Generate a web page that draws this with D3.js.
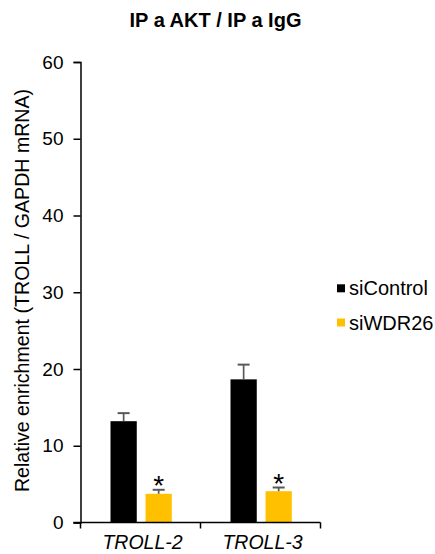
<!DOCTYPE html>
<html>
<head>
<meta charset="utf-8">
<script src="https://cdn.jsdelivr.net/npm/d3@7"></script>
<style>
  body { margin: 0; background: #fff; }
  text { font-family: "Liberation Sans", Arial, sans-serif; }
</style>
</head>
<body>
<div id="chart"></div>
<script>
const width = 435
const height = 554

// Datos
const categories = ["TROLL-2", "TROLL-3"]
const groups = ["siControl", "siWDR26"]
const colors = ["#000000", "#ffc000"]
const siControl = [13.2, 18.65]
const siControlErr = [1.05, 1.92]
const siWDR26 = [3.74, 4.08]
const siWDR26Err = [0.52, 0.48]
const significant = [true, true]
const yTicks = [0, 10, 20, 30, 40, 50, 60]

const plot = { left: 80.5, right: 320.5, top: 62, bottom: 522.5 }

const svg = d3.select("#chart")
  .append("svg")
  .attr("width", width)
  .attr("height", height)

// Escalas
const x = d3.scaleBand().domain(categories).range([plot.left, plot.right])
const xGroup = d3.scaleBand().domain(groups).range([30, 91.3]).paddingInner(0.25)
const y = d3.scaleLinear().domain([0, 60]).range([plot.bottom, plot.top])

// Titulo
svg.append("text")
  .attr("x", 215.5).attr("y", 26.5)
  .attr("text-anchor", "middle")
  .attr("font-size", 20).attr("font-weight", "bold")
  .text("IP a AKT / IP a IgG")

// Eje Y
const yAxisGroup = svg.append("g")
  .attr("transform", `translate(${plot.left},0)`)
  .call(d3.axisLeft(y).tickValues(yTicks).tickSize(7).tickPadding(10))
yAxisGroup.select(".domain").attr("stroke", "#000").attr("stroke-width", 1.5)
yAxisGroup.selectAll(".tick line").attr("stroke", "#000").attr("stroke-width", 1.5)
yAxisGroup.selectAll(".tick text")
  .attr("font-size", 19).attr("fill", "#000")
  .attr("font-family", "Liberation Sans, Arial, sans-serif")

svg.append("text")
  .attr("transform", `translate(24,290.5) rotate(-90)`)
  .attr("text-anchor", "middle")
  .attr("dominant-baseline", "middle")
  .attr("font-size", 19.6)
  .text("Relative enrichment (TROLL / GAPDH mRNA)")

// Datos por barra
const bars = []
categories.forEach((c, i) => {
  bars.push({ cat: c, group: "siControl", value: siControl[i], err: siControlErr[i], star: false })
  bars.push({ cat: c, group: "siWDR26", value: siWDR26[i], err: siWDR26Err[i], star: significant[i] })
})

const elementGroup = svg.append("g")

elementGroup.selectAll("rect.bar")
  .data(bars)
  .join("rect")
  .attr("class", "bar")
  .attr("x", d => x(d.cat) + xGroup(d.group))
  .attr("width", xGroup.bandwidth())
  .attr("y", d => y(d.value))
  .attr("height", d => y(0) - y(d.value))
  .attr("fill", d => colors[groups.indexOf(d.group)])

// Barras de error
const errG = elementGroup.selectAll("g.err")
  .data(bars)
  .join("g")
  .attr("class", "err")
  .attr("transform", d => `translate(${x(d.cat) + xGroup(d.group) + xGroup.bandwidth() / 2},0)`)
errG.append("line")
  .attr("x1", 0).attr("x2", 0)
  .attr("y1", d => y(d.value)).attr("y2", d => y(d.value + d.err))
  .attr("stroke", "#595959").attr("stroke-width", 1.7)
errG.append("line")
  .attr("x1", -6).attr("x2", 6)
  .attr("y1", d => y(d.value + d.err)).attr("y2", d => y(d.value + d.err))
  .attr("stroke", "#595959").attr("stroke-width", 2)

elementGroup.selectAll("text.star")
  .data(bars.filter(d => d.star))
  .join("text")
  .attr("class", "star")
  .attr("x", d => x(d.cat) + xGroup(d.group) + xGroup.bandwidth() / 2)
  .attr("y", d => y(d.value + d.err) + 5)
  .attr("text-anchor", "middle")
  .attr("font-size", 28)
  .text("*")

// Eje X
const xAxisGroup = svg.append("g")
  .attr("transform", `translate(0,${plot.bottom})`)
xAxisGroup.append("line")
  .attr("x1", plot.left - 7).attr("x2", plot.right)
  .attr("stroke", "#000").attr("stroke-width", 1.5)
xAxisGroup.selectAll("line.tk")
  .data([plot.left, ...categories.map(c => x(c) + x.bandwidth())])
  .join("line")
  .attr("class", "tk")
  .attr("x1", d => d).attr("x2", d => d)
  .attr("y1", 0).attr("y2", 6)
  .attr("stroke", "#000").attr("stroke-width", 1.5)
xAxisGroup.selectAll("text")
  .data(categories)
  .join("text")
  .attr("x", d => x(d) + x.bandwidth() / 2 + 2)
  .attr("y", 26)
  .attr("text-anchor", "middle")
  .attr("font-size", 19.5).attr("font-style", "italic")
  .text(d => d)

// Leyenda
const legend = svg.append("g")
  .attr("transform", "translate(337,288.3)")
const li = legend.selectAll("g")
  .data(groups)
  .join("g")
  .attr("transform", (d, i) => `translate(0,${i * 34.2})`)
li.append("rect")
  .attr("x", 0).attr("y", -4)
  .attr("width", 8).attr("height", 8)
  .attr("fill", (d, i) => colors[i])
li.append("text")
  .attr("x", 12).attr("y", 0)
  .attr("dominant-baseline", "central")
  .attr("font-size", 20)
  .text(d => d)
</script>
</body>
</html>
